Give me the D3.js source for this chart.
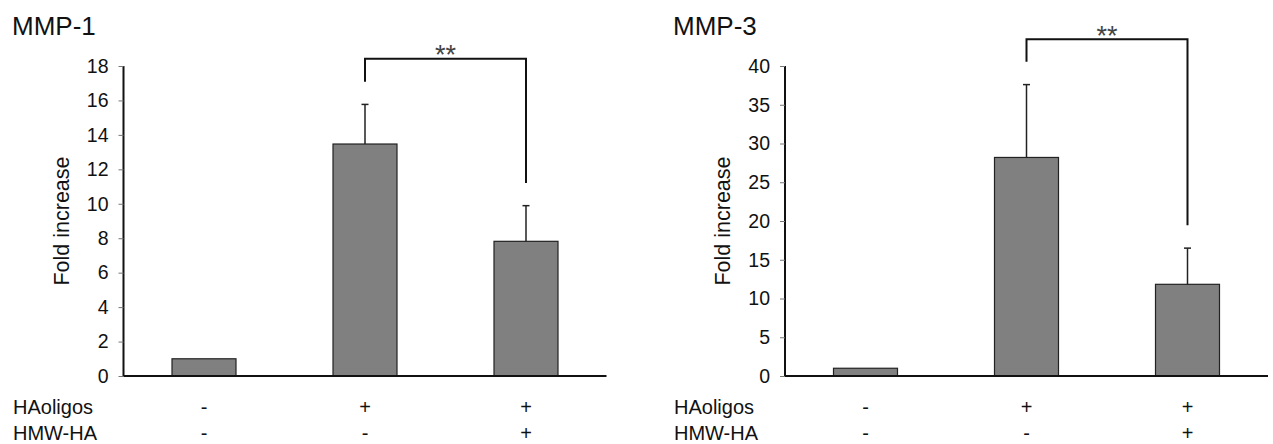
<html>
<head>
<script src="https://d3js.org/d3.v7.min.js"></script>
<style>
  body { margin: 0; background: #fff; }
  svg text { font-family: "Liberation Sans", Arial, sans-serif; fill: #111; }
</style>
</head>
<body>
<svg width="1273" height="444"></svg>
<script>
// data
var groups = ["ctrl", "oligo", "oligo+hmw"];
var haOligos = ["-", "+", "+"];
var hmwHA = ["-", "-", "+"];

var mmp1Values = [1.0, 13.47, 7.82];
var mmp1Errors = [null, 2.3, 2.07];
var mmp1Ticks = [0, 2, 4, 6, 8, 10, 12, 14, 16, 18];
// bracket: [from group, to group, top value, left end, right end]
var mmp1Bracket = [1, 2, 18.42, 17.09, 11.2];

var mmp3Values = [1.0, 28.2, 11.83];
var mmp3Errors = [null, 9.4, 4.67];
var mmp3Ticks = [0, 5, 10, 15, 20, 25, 30, 35, 40];
var mmp3Bracket = [1, 2, 43.45, 40.56, 19.45];

var svg = d3.select("svg");

function drawPanel(opt) {
  var g = svg.append("g");
  var axisX = opt.axisX;

  var x = d3.scalePoint().domain(groups).range([axisX, axisX + 483]).padding(0.5);
  var y = d3.scaleLinear().domain([0, opt.max]).range([376, 66]);
  var bw = 64;

  // title
  g.append("text")
    .attr("x", opt.titleX).attr("y", 35)
    .style("font-size", "26px")
    .text(opt.title);

  // bars
  g.selectAll("rect.bar")
    .data(opt.values)
    .enter().append("rect")
    .attr("class", "bar")
    .attr("x", function(d, i) { return x(groups[i]) - bw / 2; })
    .attr("y", function(d) { return y(d); })
    .attr("width", bw)
    .attr("height", function(d) { return y(0) - y(d); })
    .attr("fill", "#808080")
    .attr("stroke", "#222")
    .attr("stroke-width", 1.2);

  // error bars (upper only)
  opt.errors.forEach(function(e, i) {
    if (e == null) return;
    var cx = x(groups[i]);
    var top = y(opt.values[i] + e);
    g.append("line")
      .attr("x1", cx).attr("x2", cx)
      .attr("y1", y(opt.values[i])).attr("y2", top)
      .attr("stroke", "#222").attr("stroke-width", 1.5);
    g.append("line")
      .attr("x1", cx - 3.5).attr("x2", cx + 3.5)
      .attr("y1", top).attr("y2", top)
      .attr("stroke", "#222").attr("stroke-width", 1.5);
  });

  // y axis
  var yAxis = d3.axisLeft(y).tickValues(opt.ticks).tickSize(5).tickPadding(10);
  var ya = g.append("g")
    .attr("transform", "translate(" + axisX + ",0)")
    .call(yAxis);
  ya.select(".domain").attr("stroke", "#111").attr("stroke-width", 2)
    .attr("d", "M0," + y(opt.max) + "V" + y(0));
  ya.selectAll(".tick line").attr("stroke", "#777").attr("stroke-width", 1);
  ya.selectAll(".tick text")
    .style("font-size", "19.5px")
    .style("font-family", "'Liberation Sans', Arial, sans-serif")
    .attr("fill", "#111");

  // x axis line
  g.append("line")
    .attr("x1", axisX).attr("x2", axisX + 483)
    .attr("y1", y(0)).attr("y2", y(0))
    .attr("stroke", "#111").attr("stroke-width", 2);

  // y label
  g.append("text")
    .attr("transform", "translate(" + (axisX - 55) + ",221) rotate(-90)")
    .attr("text-anchor", "middle")
    .style("font-size", "21.5px")
    .text("Fold increase");

  // significance bracket
  var b = opt.bracket;
  var bx1 = x(groups[b[0]]), bx2 = x(groups[b[1]]);
  g.append("path")
    .attr("d", "M" + bx1 + "," + y(b[3]) + "V" + y(b[2]) + "H" + bx2 + "V" + y(b[4]))
    .attr("fill", "none")
    .attr("stroke", "#111")
    .attr("stroke-width", 2);
  g.append("text")
    .attr("x", (bx1 + bx2) / 2).attr("y", y(b[2]) + 5.5)
    .attr("text-anchor", "middle")
    .style("font-size", "27px")
    .style("fill", "#444")
    .text("**");

  // treatment rows
  g.append("text").attr("x", opt.rowX).attr("y", 414)
    .style("font-size", "20px").text("HAoligos");
  g.append("text").attr("x", opt.rowX).attr("y", 440)
    .style("font-size", "20px").text("HMW-HA");

  g.selectAll("text.row1")
    .data(haOligos)
    .enter().append("text")
    .attr("class", "row1")
    .attr("x", function(d, i) { return x(groups[i]); })
    .attr("y", 414)
    .attr("text-anchor", "middle")
    .style("font-size", "20px")
    .text(function(d) { return d; });

  g.selectAll("text.row2")
    .data(hmwHA)
    .enter().append("text")
    .attr("class", "row2")
    .attr("x", function(d, i) { return x(groups[i]); })
    .attr("y", 440)
    .attr("text-anchor", "middle")
    .style("font-size", "20px")
    .text(function(d) { return d; });
}

drawPanel({ title: "MMP-1", titleX: 12, rowX: 13, axisX: 123.5, max: 18,
  values: mmp1Values, errors: mmp1Errors, ticks: mmp1Ticks, bracket: mmp1Bracket });
drawPanel({ title: "MMP-3", titleX: 673, rowX: 674, axisX: 785, max: 40,
  values: mmp3Values, errors: mmp3Errors, ticks: mmp3Ticks, bracket: mmp3Bracket });
</script>
</body>
</html>
